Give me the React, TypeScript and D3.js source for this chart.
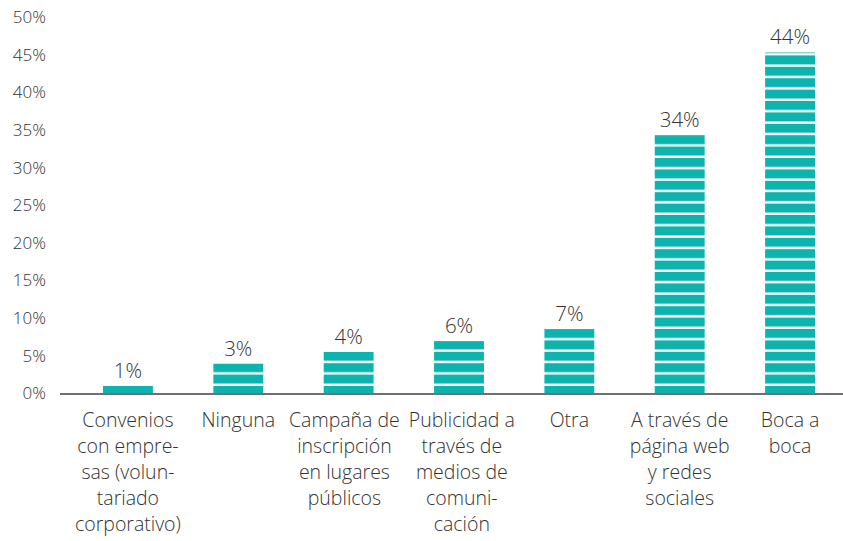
import React, { useEffect, useRef } from "react";
import * as d3 from "d3";

const categoryLines: string[][] = [
  ["Convenios", "con empre-", "sas (volun-", "tariado", "corporativo)"],
  ["Ninguna"],
  ["Campaña de", "inscripción", "en lugares", "públicos"],
  ["Publicidad a", "través de", "medios de", "comuni-", "cación"],
  ["Otra"],
  ["A través de", "página web", "y redes", "sociales"],
  ["Boca a", "boca"],
];
const barValues: number[] = [0.93, 3.9, 5.45, 6.9, 8.5, 34.35, 45.3];
const valueLabels: string[] = ["1%", "3%", "4%", "6%", "7%", "34%", "44%"];
const yTicks: number[] = [0, 5, 10, 15, 20, 25, 30, 35, 40, 45, 50];

const W = 843;
const H = 541;
const TEAL = "#0db3ad";
const TEXT = "#333333";
const FONT = "'Open Sans', 'Noto Sans', sans-serif";

export default function App() {
  const ref = useRef<SVGSVGElement | null>(null);

  useEffect(() => {
    document.body.style.margin = "0";
    const svg = d3.select(ref.current);
    svg.selectAll("*").remove();

    const baseline = 393;
    const y = d3.scaleLinear().domain([0, 50]).range([baseline, 17]);
    const idx = categoryLines.map((_, i) => String(i));
    const x = d3
      .scaleBand<string>()
      .domain(idx)
      .range([103, 815])
      .paddingInner(0.548)
      .paddingOuter(0);

    const period = 11.4;
    const defs = svg.append("defs");
    const pat = defs
      .append("pattern")
      .attr("id", "stripes")
      .attr("patternUnits", "userSpaceOnUse")
      .attr("x", 0)
      .attr("y", baseline - 7)
      .attr("width", 10)
      .attr("height", period);
    pat.append("rect").attr("x", 0).attr("y", 0).attr("width", 10).attr("height", 9).attr("fill", TEAL);

    // y tick labels
    svg
      .append("g")
      .selectAll("text")
      .data(yTicks)
      .join("text")
      .attr("x", 46)
      .attr("y", (d) => y(d))
      .attr("dy", "0.36em")
      .attr("text-anchor", "end")
      .attr("font-family", FONT)
      .attr("font-weight", 300)
      .attr("font-size", 17)
      .attr("fill", TEXT)
      .text((d) => `${d}%`);

    // bars
    svg
      .append("g")
      .selectAll("rect")
      .data(barValues)
      .join("rect")
      .attr("x", (_, i) => x(String(i))!)
      .attr("width", x.bandwidth())
      .attr("y", (d) => y(d))
      .attr("height", (d) => baseline - y(d))
      .attr("fill", "url(#stripes)");

    // axis line
    svg
      .append("line")
      .attr("x1", 60)
      .attr("x2", W)
      .attr("y1", baseline + 1)
      .attr("y2", baseline + 1)
      .attr("stroke", "#707070")
      .attr("stroke-width", 2);

    // value labels
    svg
      .append("g")
      .selectAll("text")
      .data(barValues)
      .join("text")
      .attr("x", (_, i) => x(String(i))! + x.bandwidth() / 2)
      .attr("y", (d) => y(d) - 8)
      .attr("text-anchor", "middle")
      .attr("font-family", FONT)
      .attr("font-weight", 300)
      .attr("font-size", 20.5)
      .attr("fill", TEXT)
      .text((_, i) => valueLabels[i]);

    // category labels
    const groups: { g: any; left: number; right: number; dx: number }[] = [];
    const cg = svg
      .append("g")
      .selectAll("g")
      .data(categoryLines)
      .join("g");
    cg.each(function (lines, i) {
      const g = d3.select(this);
      const cx = x(String(i))! + x.bandwidth() / 2;
      const t = g
        .append("text")
        .attr("text-anchor", "middle")
        .attr("font-family", FONT)
        .attr("font-weight", 300)
        .attr("font-size", 19.5)
        .attr("fill", TEXT);
      t.selectAll("tspan")
        .data(lines)
        .join("tspan")
        .attr("x", cx)
        .attr("y", (_, k) => 427 + k * 26)
        .text((d) => d);
      const bb = (t.node() as SVGTextElement).getBBox();
      groups.push({ g, left: bb.x, right: bb.x + bb.width, dx: 0 });
    });
    // keep inside plot on the left
    const minLeft = 60;
    if (groups.length && groups[0].left < minLeft) groups[0].dx = minLeft - groups[0].left;
    // separate overlapping neighbours
    const gap = 9;
    for (let i = 0; i < groups.length - 1; i++) {
      const a = groups[i];
      const b = groups[i + 1];
      const overlap = a.right + a.dx + gap - (b.left + b.dx);
      if (overlap > 0) {
        a.dx -= overlap * 0.6;
        b.dx += overlap * 0.4;
      }
    }
    groups.forEach((o) => {
      if (o.dx) o.g.attr("transform", `translate(${o.dx},0)`);
    });
  }, []);

  return (
    <svg
      ref={ref}
      width={W}
      height={H}
      style={{ display: "block", background: "#ffffff" }}
    />
  );
}
